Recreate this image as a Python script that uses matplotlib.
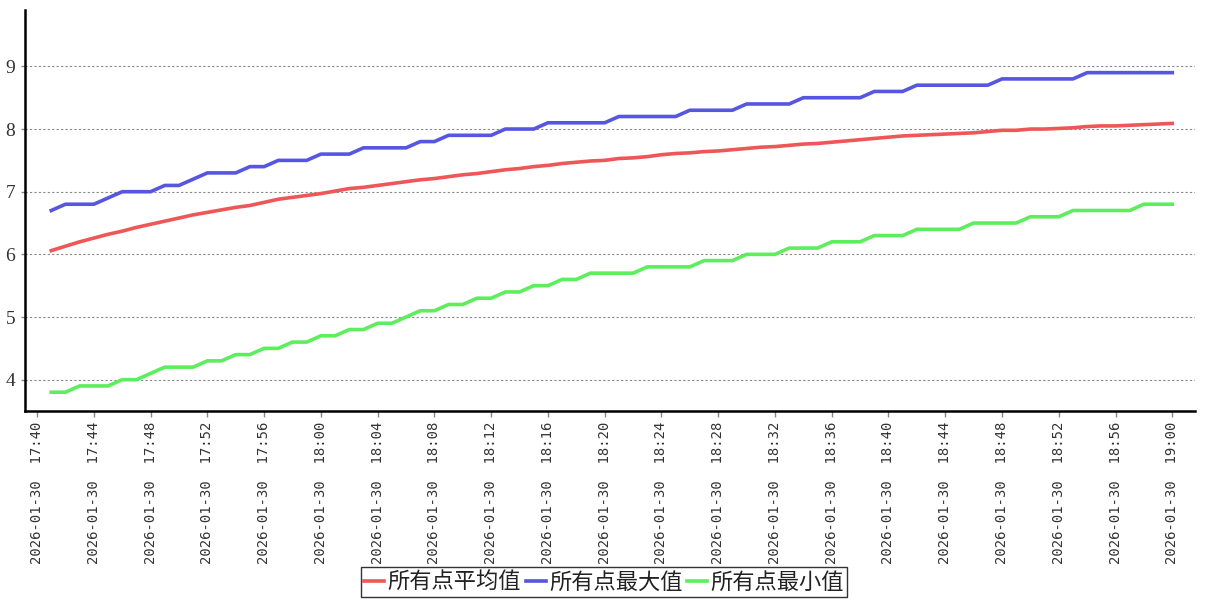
import numpy as np
import matplotlib.pyplot as plt
import matplotlib.dates as mdates

# one point per minute, 17:41 .. 19:00
times = np.arange(np.datetime64('2026-01-30T17:41'), np.datetime64('2026-01-30T19:01'),
                  np.timedelta64(1, 'm')).astype('datetime64[m]').astype(object)

avg_vals = [6.06, 6.13, 6.20, 6.26, 6.32, 6.37, 6.43, 6.48, 6.53, 6.58,
            6.63, 6.67, 6.71, 6.75, 6.78, 6.83, 6.88, 6.91, 6.94, 6.97,
            7.01, 7.05, 7.07, 7.10, 7.13, 7.16, 7.19, 7.21, 7.24, 7.27,
            7.29, 7.32, 7.35, 7.37, 7.40, 7.42, 7.45, 7.47, 7.49, 7.50,
            7.53, 7.54, 7.56, 7.59, 7.61, 7.62, 7.64, 7.65, 7.67, 7.69,
            7.71, 7.72, 7.74, 7.76, 7.77, 7.79, 7.81, 7.83, 7.85, 7.87,
            7.89, 7.90, 7.91, 7.92, 7.93, 7.94, 7.96, 7.98, 7.98, 8.00,
            8.00, 8.01, 8.02, 8.04, 8.05, 8.05, 8.06, 8.07, 8.08, 8.09]

max_vals = [6.7, 6.8, 6.8, 6.8, 6.9, 7.0, 7.0, 7.0, 7.1, 7.1,
            7.2, 7.3, 7.3, 7.3, 7.4, 7.4, 7.5, 7.5, 7.5, 7.6,
            7.6, 7.6, 7.7, 7.7, 7.7, 7.7, 7.8, 7.8, 7.9, 7.9,
            7.9, 7.9, 8.0, 8.0, 8.0, 8.1, 8.1, 8.1, 8.1, 8.1,
            8.2, 8.2, 8.2, 8.2, 8.2, 8.3, 8.3, 8.3, 8.3, 8.4,
            8.4, 8.4, 8.4, 8.5, 8.5, 8.5, 8.5, 8.5, 8.6, 8.6,
            8.6, 8.7, 8.7, 8.7, 8.7, 8.7, 8.7, 8.8, 8.8, 8.8,
            8.8, 8.8, 8.8, 8.9, 8.9, 8.9, 8.9, 8.9, 8.9, 8.9]

min_vals = [3.8, 3.8, 3.9, 3.9, 3.9, 4.0, 4.0, 4.1, 4.2, 4.2,
            4.2, 4.3, 4.3, 4.4, 4.4, 4.5, 4.5, 4.6, 4.6, 4.7,
            4.7, 4.8, 4.8, 4.9, 4.9, 5.0, 5.1, 5.1, 5.2, 5.2,
            5.3, 5.3, 5.4, 5.4, 5.5, 5.5, 5.6, 5.6, 5.7, 5.7,
            5.7, 5.7, 5.8, 5.8, 5.8, 5.8, 5.9, 5.9, 5.9, 6.0,
            6.0, 6.0, 6.1, 6.1, 6.1, 6.2, 6.2, 6.2, 6.3, 6.3,
            6.3, 6.4, 6.4, 6.4, 6.4, 6.5, 6.5, 6.5, 6.5, 6.6,
            6.6, 6.6, 6.7, 6.7, 6.7, 6.7, 6.7, 6.8, 6.8, 6.8]

series_names = ['所有点平均值', '所有点最大值', '所有点最小值']
colors = ['#ee5757', '#5656e2', '#5cee5c']

plt.rcParams['font.family'] = ['Noto Sans CJK SC', 'DejaVu Sans']

fig = plt.figure(figsize=(12.07, 6.0), dpi=100)
ax = fig.add_axes([25/1207, 189/600, 1170/1207, 401/600])

for vals, name, c in zip([avg_vals, max_vals, min_vals], series_names, colors):
    ax.plot(times, vals, color=c, lw=2.6, label=name, solid_joinstyle='round')

ax.set_ylim(3.5, 9.9)
ax.set_yticks([4, 5, 6, 7, 8, 9])
ax.yaxis.grid(True, ls=(0, (2, 2)), color='#888888', lw=0.8)

t0 = np.datetime64('2026-01-30T17:40')
ax.set_xlim(mdates.date2num((t0 - np.timedelta64(51, 's')).astype(object)),
            mdates.date2num((t0 + np.timedelta64(81 * 60 + 36, 's')).astype(object)))
ax.xaxis.set_major_locator(mdates.MinuteLocator(byminute=range(0, 60, 4)))
ax.xaxis.set_major_formatter(mdates.DateFormatter('%Y-%m-%d  %H:%M'))

for s in ['top', 'right']:
    ax.spines[s].set_visible(False)
ax.spines['left'].set_linewidth(1.8)
ax.spines['bottom'].set_linewidth(1.8)

ax.tick_params(axis='x', length=4, color='#888888', width=1, pad=4)
ax.tick_params(axis='y', length=3, color='#888888', width=1, pad=4)
for lab in ax.get_xticklabels():
    lab.set_rotation(90)
    lab.set_family('DejaVu Sans Mono')
    lab.set_fontsize(10)
    lab.set_color('#333333')
for lab in ax.get_yticklabels():
    lab.set_family('Liberation Serif')
    lab.set_fontsize(14)
    lab.set_color('#333333')

leg = ax.legend(loc='center', bbox_to_anchor=(604/1207, 18/600), bbox_transform=fig.transFigure,
                ncol=3, frameon=True, fancybox=False, handlelength=0.9, handletextpad=0.15,
                columnspacing=0.2, borderpad=0.15, borderaxespad=0,
                prop={'family': ['Noto Sans CJK SC'], 'size': 16})
leg.get_frame().set_edgecolor('black')
leg.get_frame().set_linewidth(1.0)
for t in leg.get_texts():
    t.set_color('#222222')

fig.savefig('out.png', dpi=100)
